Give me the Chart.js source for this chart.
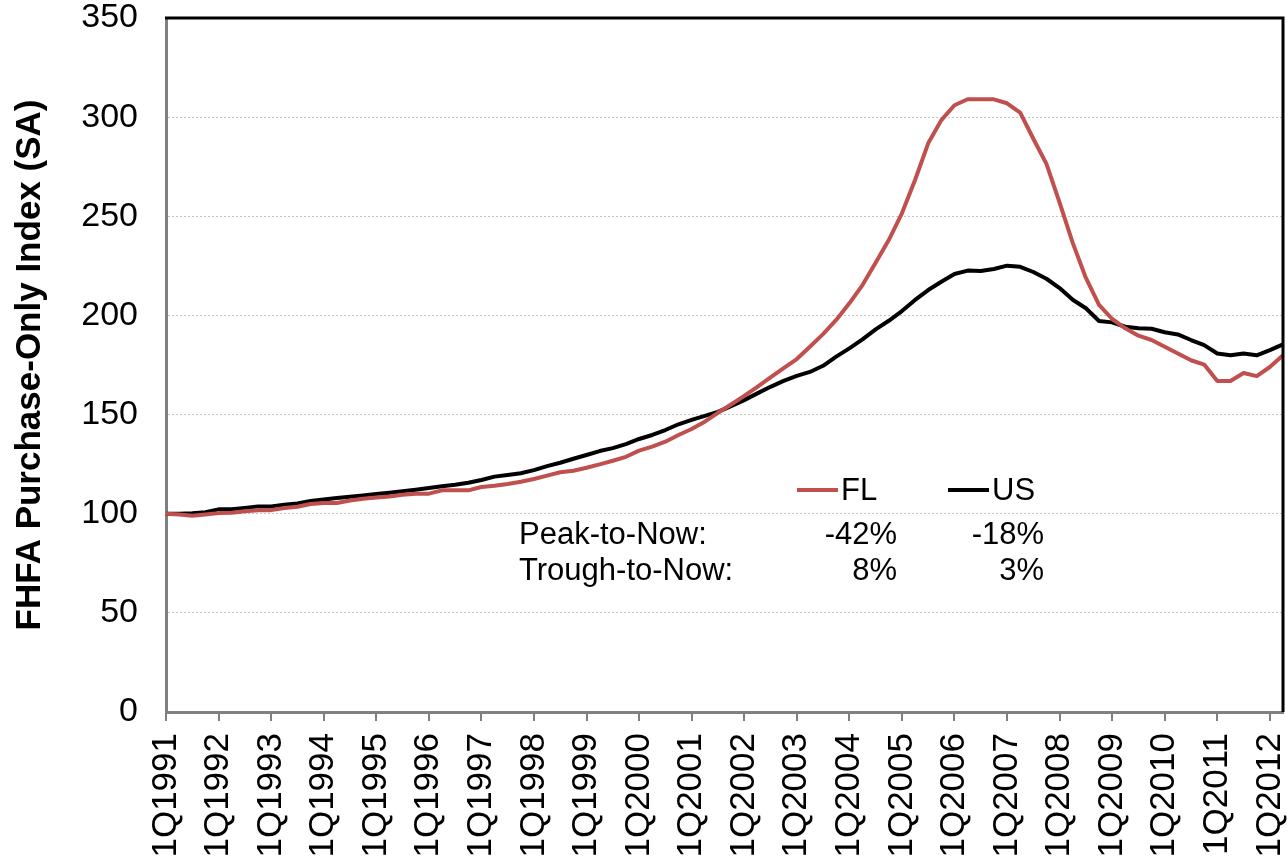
<!DOCTYPE html>
<html><head><meta charset="utf-8">
<script src="https://cdn.jsdelivr.net/npm/chart.js@4.4.1/dist/chart.umd.min.js"></script>
<style>html,body{margin:0;padding:0;background:#fff;}#wrap{width:1287px;height:865px;}</style>
</head><body><div id="wrap"><canvas id="c" width="1287" height="865"></canvas></div>
<script>
// ---- data ----
const years = [1991,1992,1993,1994,1995,1996,1997,1998,1999,2000,2001,2002,2003,2004,2005,2006,2007,2008,2009,2010,2011,2012];
const quarterNames = ['1Q','2Q','3Q','4Q'];
const categories = [];
for (const y of years) for (const q of quarterNames) categories.push(q + y);
categories.length = 86; // 1Q1991 .. 2Q2012

const flValues = [
  100, 99.6, 99, 99.6, 100.3, 100.5, 101.2, 101.8, 101.8, 102.9, 103.5, 104.9, 105.4, 105.4, 106.7, 107.6,
  108.2, 108.7, 109.6, 110.1, 110.1, 111.8, 111.8, 111.8, 113.5,
  114.1, 115, 116.1, 117.5, 119.2, 120.9, 121.7, 123.2, 124.9, 126.7, 128.7, 131.8, 133.8, 136.3, 139.7,
  142.7, 146.4, 150.9, 155.1, 159.4, 164, 168.8, 173.4, 178,
  184.2, 190.6, 197.7, 206.1, 215.3, 226.6, 238, 251.5, 268.3, 286.8, 298.5, 306, 309, 309, 309,
  307, 302.3, 289.1, 276.4, 256.9, 236.6, 218.9, 205.3, 198.2, 193.5, 189.8, 187.6, 184.2, 180.8, 177.4,
  175.2, 166.9, 166.9, 171, 169.4, 174, 179.9
];
const usValues = [
  100, 100, 100.2, 100.8, 102.2, 102.2, 102.9, 103.7, 103.7, 104.5, 105.2, 106.4, 107.2, 107.9, 108.6, 109.2,
  109.9, 110.6, 111.3, 112.1, 113, 113.8, 114.6, 115.6, 117,
  118.7, 119.5, 120.4, 122, 124, 125.7, 127.7, 129.6, 131.6, 133.1, 135.1, 137.7, 139.7, 142.2, 145.1,
  147.3, 149.3, 151.4, 154.3, 157.3, 160.7, 164, 167, 169.5,
  171.5, 174.6, 179.2, 183.4, 187.9, 193, 197.3, 202.2, 207.8, 212.8, 217, 220.9, 222.6, 222.4, 223.4,
  225.1, 224.5, 221.9, 218.5, 213.8, 207.9, 203.6, 197.2, 196.5, 194.3, 193.5, 193.3, 191.5, 190.4, 187.6,
  185, 180.8, 179.9, 180.8, 179.9, 182.5, 185.4
];
const seriesNames = ['FL', 'US'];
const seriesColors = ['#C0504D', '#000000'];
const yTicks = [0, 50, 100, 150, 200, 250, 300, 350];
const yTitle = 'FHFA Purchase-Only Index (SA)';
const statLabels = ['Peak-to-Now:', 'Trough-to-Now:'];
const peakToNow = ['-42%', '-18%'];
const troughToNow = ['8%', '3%'];

const FONT = '"Liberation Sans", Arial, sans-serif';

const annotPlugin = {
  id: 'annot',
  afterDraw(chart) {
    const ctx = chart.ctx;
    const a = chart.chartArea;
    ctx.save();
    // top and right frame
    ctx.strokeStyle = '#000';
    ctx.lineWidth = 3;
    ctx.beginPath();
    ctx.moveTo(a.left - 1, a.top);
    ctx.lineTo(a.right, a.top);
    ctx.lineTo(a.right, a.bottom);
    ctx.stroke();
    // legend
    ctx.font = '31px ' + FONT;
    ctx.textBaseline = 'middle';
    ctx.textAlign = 'left';
    const legX = [797, 948];
    for (let i = 0; i < 2; i++) {
      ctx.strokeStyle = seriesColors[i];
      ctx.lineWidth = 4;
      ctx.beginPath();
      ctx.moveTo(legX[i], 490);
      ctx.lineTo(legX[i] + 41, 490);
      ctx.stroke();
      ctx.fillStyle = '#000';
      ctx.fillText(seriesNames[i], legX[i] + 44, 491);
    }
    // stats
    ctx.fillStyle = '#000';
    ctx.fillText(statLabels[0], 519, 535);
    ctx.fillText(statLabels[1], 519, 571);
    ctx.textAlign = 'right';
    const colX = [897, 1044];
    for (let i = 0; i < 2; i++) {
      ctx.fillText(peakToNow[i], colX[i], 535);
      ctx.fillText(troughToNow[i], colX[i], 571);
    }
    ctx.restore();
  }
};

new Chart(document.getElementById('c'), {
  type: 'line',
  data: {
    labels: categories,
    datasets: [
      { label: seriesNames[0], data: flValues, borderColor: seriesColors[0], borderWidth: 4, pointRadius: 0, tension: 0, borderJoinStyle: 'round', fill: false },
      { label: seriesNames[1], data: usValues, borderColor: seriesColors[1], borderWidth: 4, pointRadius: 0, tension: 0, borderJoinStyle: 'round', fill: false }
    ]
  },
  options: {
    responsive: false,
    devicePixelRatio: 1,
    animation: false,
    layout: { padding: { top: 18, right: 4, left: 0, bottom: 0 } },
    plugins: { legend: { display: false }, tooltip: { enabled: false } },
    scales: {
      x: {
        offset: false,
        grid: {
          drawOnChartArea: false,
          drawTicks: true,
          tickLength: 9,
          lineWidth: 2,
          color: (c) => (c.index % 4 === 0 && c.index < 85) ? '#808080' : 'rgba(0,0,0,0)'
        },
        border: { display: true, color: '#808080', width: 3 },
        ticks: {
          autoSkip: false,
          minRotation: 90,
          maxRotation: 90,
          padding: 12,
          color: '#000',
          font: { family: FONT, size: 35 },
          callback: function (v, i) { return i % 4 === 0 ? categories[i] : ''; }
        },
        afterFit(s) { s.height = 153; s.paddingLeft = 0; s.paddingRight = 0; }
      },
      y: {
        min: 0, max: 350,
        afterBuildTicks(s) { s.ticks = yTicks.map(v => ({ value: v })); },
        grid: { drawTicks: false, color: '#c4c4c4', lineWidth: 1 },
        border: { display: true, color: '#808080', width: 3, dash: [2, 2] },
        ticks: { padding: 28, color: '#000', font: { family: FONT, size: 34 } },
        title: { display: true, text: yTitle, color: '#000', font: { family: FONT, size: 35, weight: 'bold', lineHeight: 1.2 }, padding: { top: 9, bottom: 0 } },
        afterFit(s) { s.width = 166; s.paddingTop = 0; s.paddingBottom = 0; }
      }
    }
  },
  plugins: [annotPlugin]
});
</script></body></html>
